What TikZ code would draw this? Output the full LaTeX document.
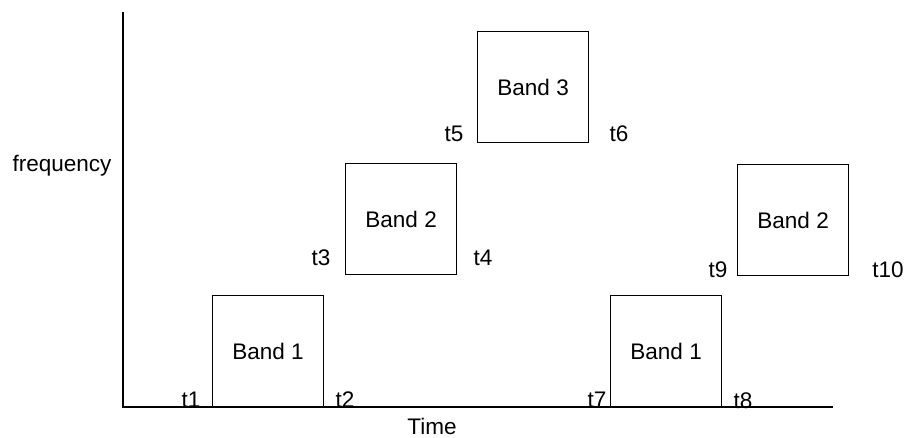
\documentclass[tikz,border=0pt]{standalone}
\usepackage{fontspec}
\setmainfont{Liberation Sans}
\tikzset{
  band/.style={draw, line width=0.9pt, rectangle, minimum width=83.25pt, minimum height=82.9pt, inner sep=0pt, anchor=south west},
  tlabel/.style={inner sep=0pt}
}
\begin{document}
\begin{tikzpicture}[x=0.75pt, y=-0.75pt, font=\fontsize{16.9}{20}\selectfont]
            \useasboundingbox (0,0) rectangle (908,438);
            % axes
            \coordinate (origin) at (123,407);
            \coordinate (ytop) at (123,12);
            \coordinate (xend) at (833,407);
            \draw[line width=0.9pt] (ytop) -- (origin) -- (xend);
            \node[tlabel] (freq) at (62,166) {frequency};
            \node[tlabel] (time) at (432,426.5) {Time};

            % bands
            \node[band] (b1) at (212,407) {Band 1};
            \node[band] (b2) at (345,275) {Band 2};
            \node[band] (b3) at (477,143) {Band 3};
            \node[band] (b4) at (610,407) {Band 1};
            \node[band] (b5) at (737,276) {Band 2};

            % times
            \node[tlabel] (t1) at (191,400) {t1};
            \node[tlabel] (t2) at (345,400) {t2};
            \node[tlabel] (t3) at (321,258) {t3};
            \node[tlabel] (t4) at (483,258) {t4};
            \node[tlabel] (t5) at (454,134) {t5};
            \node[tlabel] (t6) at (619,134) {t6};
            \node[tlabel] (t7) at (597,400) {t7};
            \node[tlabel] (t8) at (743,401) {t8};
            \node[tlabel] (t9) at (718,270) {t9};
            \node[tlabel] (t10) at (888,270) {t10};
\end{tikzpicture}
\end{document}
